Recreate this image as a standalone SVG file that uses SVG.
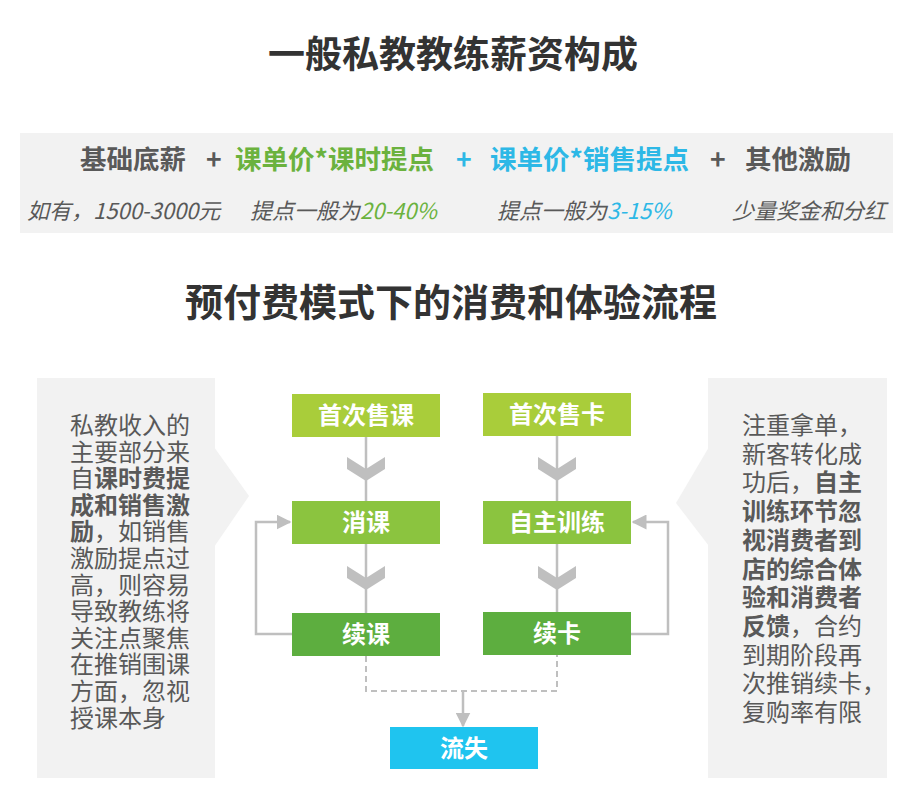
<svg xmlns="http://www.w3.org/2000/svg" width="923" height="809" viewBox="0 0 923 809">
<defs>
<style>
text{font-family:"Noto Sans CJK SC","Microsoft YaHei",sans-serif}
.title{font-size:37px;font-weight:700;fill:#333;text-anchor:middle}
.t2{font-size:38px}
.r1{font-size:26.5px;font-weight:700}
.r2{font-size:22px;font-style:italic;fill:#595959}
.dark{fill:#595959}
.green{fill:#6bb23e}
.blue{fill:#2db8e6}
.panel{fill:#f2f2f2}
.ptxt{font-size:24px;fill:#595959}
.b{font-weight:700}
.btxt{font-size:24px;font-weight:700;fill:#fff;text-anchor:middle}
.line{stroke:#bfbfbf;stroke-width:2.5;fill:none}
.dash{stroke:#bfbfbf;stroke-width:2;fill:none;stroke-dasharray:6 4}
.chev{fill:#bfbfbf}
</style>
<marker id="ah" viewBox="0 0 10 10" refX="9" refY="5" markerWidth="6" markerHeight="6" orient="auto" markerUnits="strokeWidth">
<path d="M0,0 L10,5 L0,10 z" fill="#bfbfbf"/>
</marker>
</defs>
<rect width="923" height="809" fill="#fff"/>
<text class="title" x="453" y="68">一般私教教练薪资构成</text>
<rect x="20" y="133" width="873" height="100" class="panel"/>
<g id="formula">
<text class="r1 dark" x="80" y="169">基础底薪</text>
<text class="r1 dark" x="206" y="169">+</text>
<text class="r1 green" x="235" y="169">课单价*课时提点</text>
<text class="r1 blue" x="456" y="169">+</text>
<text class="r1 blue" x="490" y="169">课单价*销售提点</text>
<text class="r1 dark" x="710" y="169">+</text>
<text class="r1 dark" x="745" y="169">其他激励</text>
<text class="r2" x="27" y="219">如有，1500-3000元</text>
<text class="r2" x="250" y="219">提点一般为<tspan class="green">20-40%</tspan></text>
<text class="r2" x="497" y="219">提点一般为<tspan class="blue">3-15%</tspan></text>
<text class="r2" x="732" y="219">少量奖金和分红</text>
</g>
<text class="title t2" x="451" y="316">预付费模式下的消费和体验流程</text>
<g id="left-note">
<rect x="37" y="378" width="178" height="400" class="panel"/>
<polygon points="214,447 249,496 214,547" class="panel"/>
<text class="ptxt" x="70" y="434">私教收入的</text>
<text class="ptxt" x="70" y="460.6">主要部分来</text>
<text class="ptxt" x="70" y="487.2">自<tspan class="b">课时费提</tspan></text>
<text class="ptxt b" x="70" y="513.8">成和销售激</text>
<text class="ptxt" x="70" y="540.4"><tspan class="b">励</tspan>，如销售</text>
<text class="ptxt" x="70" y="567">激励提点过</text>
<text class="ptxt" x="70" y="593.6">高，则容易</text>
<text class="ptxt" x="70" y="620.2">导致教练将</text>
<text class="ptxt" x="70" y="646.8">关注点聚焦</text>
<text class="ptxt" x="70" y="673.4">在推销围课</text>
<text class="ptxt" x="70" y="700">方面，忽视</text>
<text class="ptxt" x="70" y="726.6">授课本身</text>
</g>
<g id="right-note">
<rect x="708" y="378" width="179" height="400" class="panel"/>
<polygon points="709,447 676,503 709,546" class="panel"/>
<text class="ptxt" x="742" y="434">注重拿单，</text>
<text class="ptxt" x="742" y="462.7">新客转化成</text>
<text class="ptxt" x="742" y="491.4">功后，<tspan class="b">自主</tspan></text>
<text class="ptxt b" x="742" y="520.1">训练环节忽</text>
<text class="ptxt b" x="742" y="548.8">视消费者到</text>
<text class="ptxt b" x="742" y="577.5">店的综合体</text>
<text class="ptxt b" x="742" y="606.2">验和消费者</text>
<text class="ptxt" x="742" y="634.9"><tspan class="b">反馈</tspan>，合约</text>
<text class="ptxt" x="742" y="663.6">到期阶段再</text>
<text class="ptxt" x="742" y="692.3">次推销续卡，</text>
<text class="ptxt" x="742" y="721">复购率有限</text>
</g>
<g id="connectors">
<line class="line" x1="366" y1="437" x2="366" y2="501"/>
<line class="line" x1="366" y1="544" x2="366" y2="613"/>
<line class="line" x1="557" y1="436" x2="557" y2="501"/>
<line class="line" x1="557" y1="544" x2="557" y2="612"/>
<polygon class="chev" points="347,457 366,469 385,457 385,469 366,481 347,469"/>
<polygon class="chev" points="538,457 557,469 576,457 576,469 557,481 538,469"/>
<polygon class="chev" points="347,566 366,578 385,566 385,578 366,590 347,578"/>
<polygon class="chev" points="538,566 557,578 576,566 576,578 557,590 538,578"/>
<polyline class="line" points="292,634 256,634 256,522 290,522" marker-end="url(#ah)"/>
<polyline class="line" points="631,634 668,634 668,522 633,522" marker-end="url(#ah)"/>
<polyline class="dash" points="366,656 366,691 557,691 557,655"/>
<line class="line" x1="463" y1="691" x2="463" y2="726" marker-end="url(#ah)"/>
</g>
<g id="node-shouci-shouke"><rect x="292" y="394" width="148" height="43" fill="#a9cd3a"/><text class="btxt" x="366" y="424">首次售课</text></g>
<g id="node-shouci-shouka"><rect x="483" y="393" width="148" height="43" fill="#a9cd3a"/><text class="btxt" x="557" y="423">首次售卡</text></g>
<g id="node-xiaoke"><rect x="292" y="501" width="148" height="43" fill="#8bc43f"/><text class="btxt" x="366" y="531">消课</text></g>
<g id="node-zizhu"><rect x="483" y="501" width="148" height="43" fill="#8bc43f"/><text class="btxt" x="557" y="531">自主训练</text></g>
<g id="node-xuke"><rect x="292" y="613" width="148" height="43" fill="#5dae3f"/><text class="btxt" x="366" y="643">续课</text></g>
<g id="node-xuka"><rect x="483" y="612" width="148" height="43" fill="#5dae3f"/><text class="btxt" x="557" y="642">续卡</text></g>
<g id="node-liushi"><rect x="390" y="727" width="148" height="42" fill="#1fc4ef"/><text class="btxt" x="464" y="757">流失</text></g>
</svg>
